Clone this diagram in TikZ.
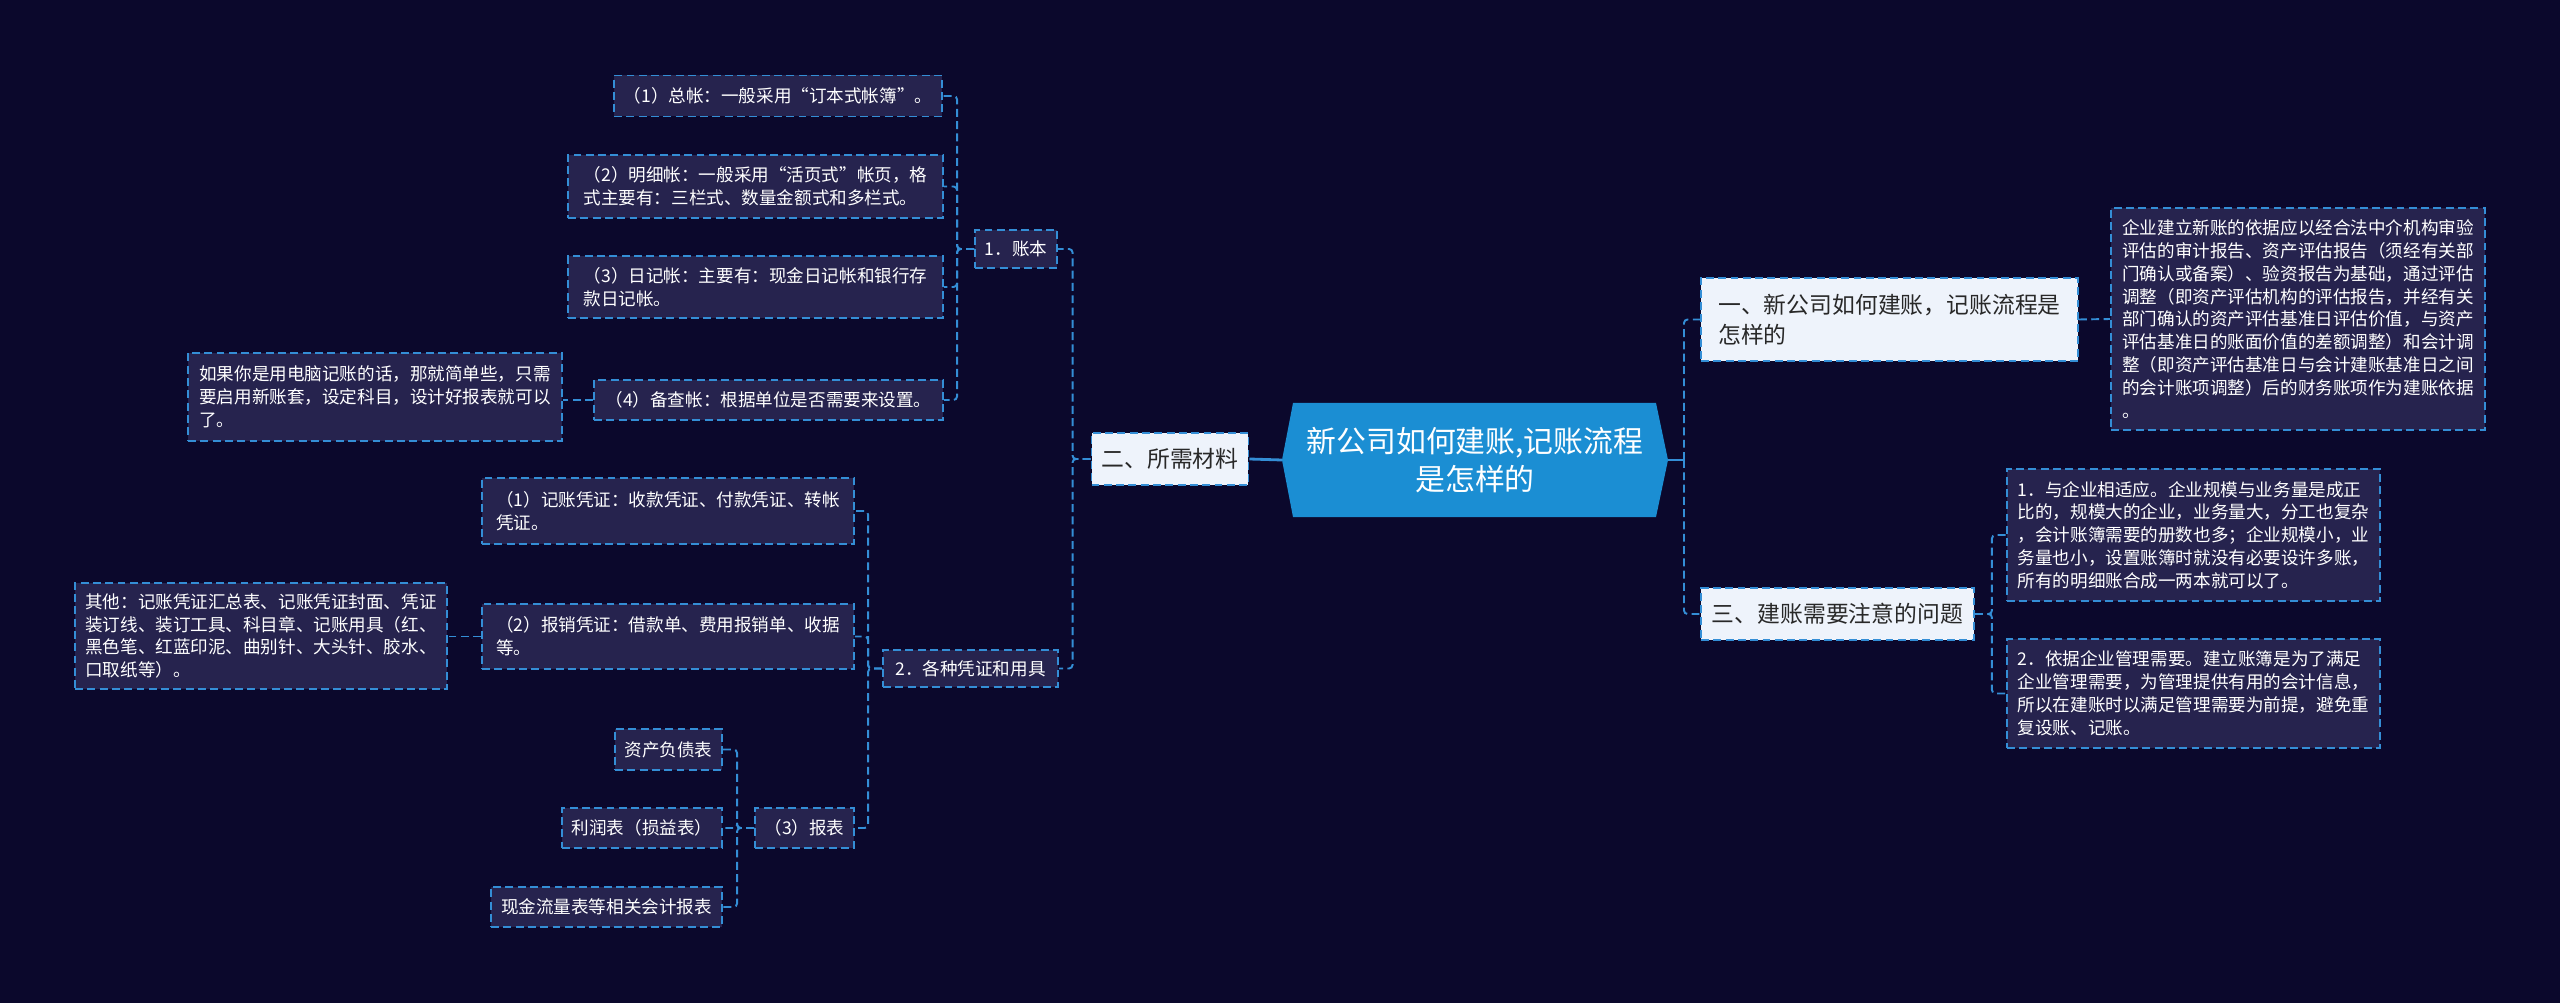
\documentclass[tikz,border=0pt]{standalone}
\usepackage{fontspec}
\setmainfont{Noto Sans CJK SC}
\definecolor{bgcol}{RGB}{11,8,44}
\definecolor{boxdark}{RGB}{38,35,78}
\definecolor{boxlight}{RGB}{238,243,251}
\definecolor{lineblue}{RGB}{52,142,214}
\definecolor{rootblue}{RGB}{27,142,211}
\definecolor{textdark}{RGB}{40,40,40}
\begin{document}
\begin{tikzpicture}[x=0.02cm,y=-0.02cm]
    \tikzstyle{leaf}=[draw=lineblue,fill=boxdark,text=white,line width=1.1pt,dash pattern=on 4.5pt off 2.5pt,font=\fontsize{10pt}{13pt}\selectfont,align=left,inner sep=0pt]
    \tikzstyle{branch}=[leaf,fill=boxlight,text=textdark,font=\fontsize{13pt}{17pt}\selectfont]
    \tikzstyle{conn}=[draw=lineblue,line width=1.1pt,dash pattern=on 4.5pt off 2.5pt,rounded corners=2pt]
    \tikzstyle{trunk}=[draw=lineblue,line width=1.6pt]
    \useasboundingbox (0,0) rectangle (2560,1003);
    \fill[bgcol] (0,0) rectangle (2560,1003);

    % centre
    \fill[rootblue] (1282,460) -- (1293,403) -- (1656,403) -- (1668,460) -- (1656,517) -- (1293,517) -- cycle;
    \node[text=white,align=center,font=\fontsize{17pt}{22pt}\selectfont] (root) at (1475,460) {新公司如何建账,记账流程\\是怎样的};
    \coordinate (rootL) at (1282,460);
    \coordinate (rootR) at (1668,460);
    \coordinate (rbus) at (1684,460);

    % left side
    \node[branch,minimum width=3.14cm,minimum height=1.04cm] (erbox) at (1170,459) {二、所需材料};
    \node[leaf,minimum width=1.64cm,minimum height=0.76cm] (zhangben) at (1016,249) {1．账本};
    \node[leaf,minimum width=6.56cm,minimum height=0.82cm] (z1) at (778,96) {（1）总帐：一般采用“订本式帐簿”。};
    \node[leaf,minimum width=7.5cm,minimum height=1.26cm] (z2) at (755.5,186.5) {（2）明细帐：一般采用“活页式”帐页，格\\式主要有：三栏式、数量金额式和多栏式。};
    \node[leaf,minimum width=7.5cm,minimum height=1.24cm] (z3) at (755.5,287) {（3）日记帐：主要有：现金日记帐和银行存\\款日记帐。};
    \node[leaf,minimum width=6.98cm,minimum height=0.8cm] (z4) at (768.5,400) {（4）备查帐：根据单位是否需要来设置。};
    \node[leaf,minimum width=7.48cm,minimum height=1.76cm] (ruguo) at (375,397) {如果你是用电脑记账的话，那就简单些，只需\\要启用新账套，设定科目，设计好报表就可以\\了。};
    \node[leaf,minimum width=3.5cm,minimum height=0.74cm] (gezhong) at (970.5,668.5) {2．各种凭证和用具};
    \node[leaf,minimum width=7.44cm,minimum height=1.32cm] (p1) at (668,511) {（1）记账凭证：收款凭证、付款凭证、转帐\\凭证。};
    \node[leaf,minimum width=7.44cm,minimum height=1.3cm] (p2) at (668,636.5) {（2）报销凭证：借款单、费用报销单、收据\\等。};
    \node[leaf,minimum width=7.44cm,minimum height=2.12cm] (qita) at (261,636) {其他：记账凭证汇总表、记账凭证封面、凭证\\装订线、装订工具、科目章、记账用具（红、\\黑色笔、红蓝印泥、曲别针、大头针、胶水、\\口取纸等）。};
    \node[leaf,minimum width=1.98cm,minimum height=0.8cm] (baobiao) at (804.5,828) {（3）报表};
    \node[leaf,minimum width=2.14cm,minimum height=0.82cm] (zichan) at (668.5,749.5) {资产负债表};
    \node[leaf,minimum width=3.2cm,minimum height=0.8cm] (lirun) at (642,828) {利润表（损益表）};
    \node[leaf,minimum width=4.62cm,minimum height=0.8cm] (xianjin) at (606.5,907) {现金流量表等相关会计报表};

    % right side
    \node[branch,minimum width=7.54cm,minimum height=1.66cm] (yi) at (1889.5,319.5) {一、新公司如何建账，记账流程是\\怎样的};
    \node[leaf,minimum width=7.48cm,minimum height=4.44cm] (long) at (2298,319) {企业建立新账的依据应以经合法中介机构审验\\评估的审计报告、资产评估报告（须经有关部\\门确认或备案）、验资报告为基础，通过评估\\调整（即资产评估机构的评估报告，并经有关\\部门确认的资产评估基准日评估价值，与资产\\评估基准日的账面价值的差额调整）和会计调\\整（即资产评估基准日与会计建账基准日之间\\的会计账项调整）后的财务账项作为建账依据\\。};
    \node[branch,minimum width=5.46cm,minimum height=1.04cm] (san) at (1837.5,614) {三、建账需要注意的问题};
    \node[leaf,minimum width=7.46cm,minimum height=2.64cm] (n1) at (2193.5,535) {1．与企业相适应。企业规模与业务量是成正\\比的，规模大的企业，业务量大，分工也复杂\\，会计账簿需要的册数也多；企业规模小，业\\务量也小，设置账簿时就没有必要设许多账，\\所有的明细账合成一两本就可以了。};
    \node[leaf,minimum width=7.46cm,minimum height=2.18cm] (n2) at (2193.5,693.5) {2．依据企业管理需要。建立账簿是为了满足\\企业管理需要，为管理提供有用的会计信息，\\所以在建账时以满足管理需要为前提，避免重\\复设账、记账。};

    % connectors
    \draw[trunk] (rootL) -- (erbox.east);
    \draw[trunk] (rootR) -- (rbus);
    \draw[conn] (rbus) |- (yi.west);
    \draw[conn] (rbus) |- (san.west);
    \draw[conn] (yi.east) -- (long.west);
    \foreach \n in {n1,n2}
        \draw[conn] (san.east) -- ++(17,0) |- (\n.east -| \n.west);
    \foreach \n in {zhangben,gezhong}
        \draw[conn] (erbox.west) -- ++(-18,0) |- (\n.east);
    \foreach \n in {z1,z2,z3,z4}
        \draw[conn] (zhangben.west) -- ++(-17,0) |- (\n.east);
    \draw[conn] (z4.west) -- (z4.west -| ruguo.east);
    \foreach \n in {p1,p2,baobiao}
        \draw[conn] (gezhong.west) -- ++(-14,0) |- (\n.east);
    \draw[conn] (p2.west) -- (p2.west -| qita.east);
    \foreach \n in {zichan,lirun,xianjin}
        \draw[conn] (baobiao.west) -- ++(-17,0) |- (\n.east);
\end{tikzpicture}
\end{document}
